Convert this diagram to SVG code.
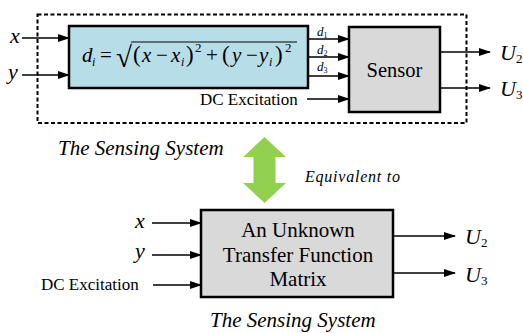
<svg xmlns="http://www.w3.org/2000/svg" width="523" height="333" viewBox="0 0 523 333" font-family="'Liberation Serif', 'Times New Roman', serif">
<style>
text{font-family:'Liberation Serif','Times New Roman',serif;fill:#000}
.i{font-style:italic}
.n{font-style:normal}
.box{stroke:#000;stroke-width:2.5}
.cn line{stroke:#000;stroke-width:1.5;fill:none}
</style>
<defs>
<marker id="ah" markerWidth="12" markerHeight="8" refX="11" refY="4" orient="auto" markerUnits="userSpaceOnUse">
<path d="M0,0 L12,4 L0,8 Z" fill="#000"/>
</marker>
</defs>
<rect width="523" height="333" fill="#fff"/>
<g id="sensing-boundary">
<rect x="37.5" y="14.5" width="429" height="108.5" fill="none" stroke="#000" stroke-width="2" stroke-dasharray="4 2.5"/>
</g>
<g id="formula-node">
<rect class="box" x="69" y="26" width="239" height="62" fill="#b7dee8"/>
<line x1="131" y1="42" x2="297" y2="42" stroke="#000" stroke-width="1.2"/>
<text font-size="21" y="62"><tspan x="82" class="i">d</tspan><tspan x="92" y="66" font-size="12" class="i">i</tspan><tspan x="100" y="62">=</tspan><tspan x="116" y="67" font-size="29">√</tspan><tspan x="133" y="62" font-size="23">(</tspan><tspan x="142" class="i">x</tspan><tspan x="156">−</tspan><tspan x="171" class="i">x</tspan><tspan x="181" y="66" font-size="12" class="i">i</tspan><tspan x="186" y="62" font-size="23">)</tspan><tspan x="195" y="52" font-size="13">2</tspan><tspan x="206" y="62">+</tspan><tspan x="222" font-size="23">(</tspan><tspan x="232" class="i">y</tspan><tspan x="246">−</tspan><tspan x="259" class="i">y</tspan><tspan x="269" y="66" font-size="12" class="i">i</tspan><tspan x="275" y="62" font-size="23">)</tspan><tspan x="285" y="52" font-size="13">2</tspan></text>
</g>
<g id="sensor-node">
<rect class="box" x="349" y="27" width="91" height="85" fill="#d9d9d9"/>
<text x="394.5" y="77" font-size="20.5" text-anchor="middle">Sensor</text>
</g>
<g id="matrix-node">
<rect class="box" x="201" y="210" width="192" height="87" fill="#d9d9d9"/>
<text x="298" y="237" font-size="21" text-anchor="middle">An Unknown</text>
<text x="298" y="262" font-size="21" text-anchor="middle">Transfer Function</text>
<text x="298" y="286" font-size="21" text-anchor="middle">Matrix</text>
</g>
<g id="equivalence">
<path d="M264.5,137 L286,157 L275.5,157 L275.5,183 L286,183 L264.5,203 L243,183 L253.5,183 L253.5,157 L243,157 Z" fill="#92d050"/>
</g>
<g id="labels">
<text class="i" x="10" y="43" font-size="22">x</text>
<text class="i" x="8" y="79" font-size="22">y</text>
<text class="i" x="317" y="36" font-size="13">d<tspan class="n" font-size="8" dy="2">1</tspan></text>
<text class="i" x="317" y="54" font-size="13">d<tspan class="n" font-size="8" dy="2">2</tspan></text>
<text class="i" x="317" y="71" font-size="13">d<tspan class="n" font-size="8" dy="2">3</tspan></text>
<text x="200" y="105" font-size="17">DC Excitation</text>
<text class="i" x="500" y="60" font-size="22">U<tspan class="n" font-size="13" dy="3">2</tspan></text>
<text class="i" x="500" y="96" font-size="22">U<tspan class="n" font-size="13" dy="3">3</tspan></text>
<text class="i" x="58" y="155" font-size="21">The Sensing System</text>
<text class="i" x="305" y="182" font-size="16" textLength="95">Equivalent to</text>
<text class="i" x="135" y="228" font-size="22">x</text>
<text class="i" x="135" y="258" font-size="22">y</text>
<text x="41" y="290" font-size="17">DC Excitation</text>
<text class="i" x="465" y="244" font-size="22">U<tspan class="n" font-size="13" dy="3">2</tspan></text>
<text class="i" x="465" y="282" font-size="22">U<tspan class="n" font-size="13" dy="3">3</tspan></text>
<text class="i" x="210" y="327" font-size="21">The Sensing System</text>
</g>
<g id="connectors" class="cn">
<line x1="22" y1="38" x2="69" y2="38" marker-end="url(#ah)"/>
<line x1="22" y1="75" x2="69" y2="75" marker-end="url(#ah)"/>
<line x1="308" y1="39" x2="349" y2="39" marker-end="url(#ah)"/>
<line x1="308" y1="57" x2="349" y2="57" marker-end="url(#ah)"/>
<line x1="308" y1="76" x2="349" y2="76" marker-end="url(#ah)"/>
<line x1="307" y1="99" x2="349" y2="99" marker-end="url(#ah)"/>
<line x1="440" y1="52" x2="490" y2="52" marker-end="url(#ah)"/>
<line x1="440" y1="88" x2="490" y2="88" marker-end="url(#ah)"/>
<line x1="152" y1="223" x2="201" y2="223" marker-end="url(#ah)"/>
<line x1="152" y1="255" x2="201" y2="255" marker-end="url(#ah)"/>
<line x1="153" y1="285" x2="201" y2="285" marker-end="url(#ah)"/>
<line x1="393" y1="236" x2="455" y2="236" marker-end="url(#ah)"/>
<line x1="393" y1="273" x2="455" y2="273" marker-end="url(#ah)"/>
</g>
</svg>
